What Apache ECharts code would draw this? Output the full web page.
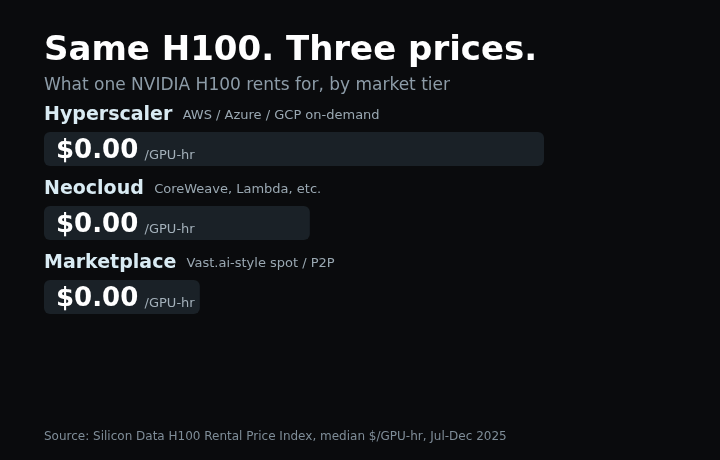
<!DOCTYPE html>
<html><head><meta charset="utf-8">
<script src="https://cdn.jsdelivr.net/npm/echarts@6/dist/echarts.min.js"></script>
<style>html,body{margin:0;padding:0;background:#0a0b0d;}#c{width:720px;height:460px;}</style>
</head><body><div id="c"></div>
<script>
const tiers = ["Hyperscaler", "Neocloud", "Marketplace"];
const tierNotes = ["AWS / Azure / GCP on-demand", "CoreWeave, Lambda, etc.", "Vast.ai-style spot / P2P"];
const prices = [6.00, 3.19, 1.87];
const shownLabels = ["$0.00", "$0.00", "$0.00"];
const unitText = "/GPU-hr";
const titleText = "Same H100. Three prices.";
const subtitleText = "What one NVIDIA H100 rents for, by market tier";
const sourceText = "Source: Silicon Data H100 Rental Price Index, median $/GPU-hr, Jul-Dec 2025";

const FONT = "DejaVu Sans";
const chart = echarts.init(document.getElementById('c'), null, {renderer: 'canvas'});
const option = {
  backgroundColor: '#0a0b0d',
  animation: false,
  title: [
    {text: titleText, left: 39, top: 29, textStyle: {color: '#ffffff', fontSize: 34, fontWeight: 'bold', fontFamily: FONT}},
    {text: subtitleText, left: 39, top: 72, textStyle: {color: '#8d9ca8', fontSize: 17, fontWeight: 'normal', fontFamily: FONT}},
    {text: sourceText, left: 39, top: 426, textStyle: {color: '#7f8d98', fontSize: 12, fontWeight: 'normal', fontFamily: FONT}}
  ],
  grid: {left: 44, top: 112, width: 500, height: 222, containLabel: false},
  xAxis: {type: 'value', min: 0, max: prices[0], show: false},
  yAxis: {type: 'category', data: tiers, inverse: true, show: false},
  series: [{
    type: 'bar',
    data: prices,
    barWidth: 34,
    itemStyle: {color: '#1a2127', borderRadius: 6},
    label: {
      show: true, position: 'insideLeft', distance: 12, offset: [0, 2],
      formatter: p => '{v|' + shownLabels[p.dataIndex] + '} {u|' + unitText + '}',
      rich: {
        v: {color: '#ffffff', fontSize: 26, fontWeight: 'bold', fontFamily: FONT, verticalAlign: 'bottom'},
        u: {color: '#a3b0ba', fontSize: 13, fontFamily: FONT, padding: [9, 0, 0, 3]}
      }
    }
  }]
};
chart.setOption(option);
const g = [];
tiers.forEach((t, i) => {
  const pt = chart.convertToPixel({gridIndex: 0}, [0, t]);
  g.push({
    type: 'text', left: 44, top: pt[1] - 43,
    style: {
      text: '{n|' + t + '} {s|' + tierNotes[i] + '}',
      rich: {
        n: {fill: '#d9ebf3', fontSize: 19, fontWeight: 'bold', fontFamily: FONT},
        s: {fill: '#9aa8b2', fontSize: 13, fontFamily: FONT, padding: [0, 0, 0, 7]}
      }
    }
  });
});
chart.setOption({graphic: g});
</script></body></html>
